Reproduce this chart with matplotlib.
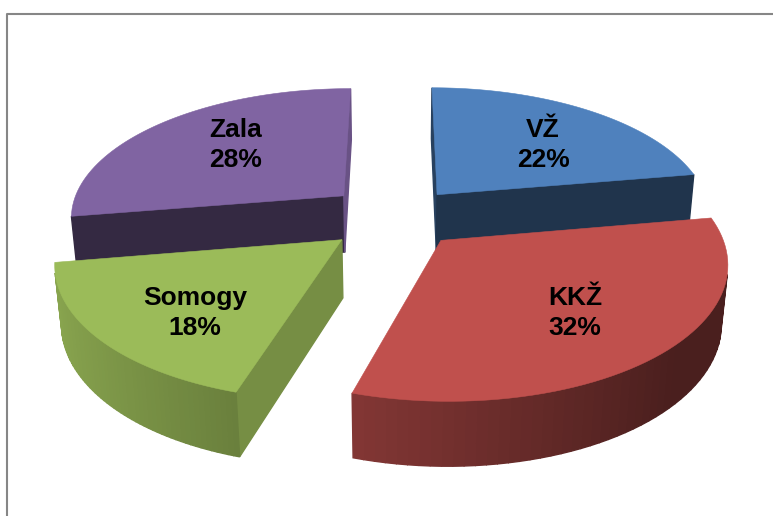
#3D exploded pie chart, drawn by hand because matplotlib has no perspective pie
import numpy as np
import matplotlib.pyplot as plt
from matplotlib.colors import to_rgb
from matplotlib.patches import Polygon

plt.rcParams['font.family'] = ['Liberation Sans', 'DejaVu Sans']

names = ['VŽ', 'KKŽ', 'Somogy', 'Zala']
values = [22.3, 32.4, 17.7, 27.6]
labels = ['22%', '32%', '18%', '28%']
colors = ['#4f81bd', '#c0504d', '#9bbb59', '#8064a2']
label_x = [543, 575, 195, 236]
label_y = [145, 313, 313, 145]
# how dark the two cut faces of each slice are
cut_shade = [(0.5, 0.4), (0.4, 0.6), (0.76, 0.4), (0.41, 0.82)]
explode = [0.232, 0.235, 0.26, 0.26]

height = 0.24
cx, cy = 397, 217
scale = 275.0
tilt = np.radians(28)
dist = 5.9


def project(x, y, z):
    depth = 1 + (y*np.cos(tilt) - z*np.sin(tilt))/dist
    up = y*np.sin(tilt) + z*np.cos(tilt)
    return cx + scale*x/depth, cy - scale*up/depth


def shade(color, f):
    return tuple(np.array(to_rgb(color))*f)


def rim_shade(th):
    return float(np.clip(0.67 - 0.29*(np.sin(th) + 0.25), 0.385, 0.9))


def face(ax, pts, color, z):
    # skip the faces that point away from the viewer
    xy = np.array(pts)
    area = 0.5*np.sum(xy[:, 0]*np.roll(xy[:, 1], -1) - np.roll(xy[:, 0], -1)*xy[:, 1])
    if area <= 0:
        return
    ax.add_patch(Polygon(xy, closed=True, fc=color, ec=color, lw=1.0, zorder=z))


fig = plt.figure(figsize=(7.73, 5.16), dpi=100)
ax = fig.add_axes([0, 0, 1, 1])
ax.set_xlim(0, 773)
ax.set_ylim(516, 0)
ax.axis('off')

# frame of the slide, only the top and left show
ax.plot([773, 6.5, 6.5], [13.5, 13.5, 516], color='#868686', lw=1.5, zorder=1)

fracs = np.array(values)/sum(values)
edges = np.concatenate([[0], np.cumsum(fracs)])*2*np.pi

# painted back to front
order = [3, 0, 2, 1]
for n, i in enumerate(order):
    a0, a1 = edges[i], edges[i+1]
    mid = (a0 + a1)/2
    ox, oy = explode[i]*np.sin(mid), explode[i]*np.cos(mid)
    th = np.linspace(a0, a1, 60)
    x = ox + np.sin(th)
    y = oy + np.cos(th)
    base = 10*(n + 1)

    top = [project(ox, oy, 0)] + [project(a, b, 0) for a, b in zip(x, y)]
    col = colors[i]

    # cut faces
    for k, (px, py) in enumerate([(x[0], y[0]), (x[-1], y[-1])]):
        quad = [project(ox, oy, 0), project(px, py, 0), project(px, py, -height), project(ox, oy, -height)]
        if k == 0:
            quad = quad[::-1]
        face(ax, quad, shade(col, cut_shade[i][k]), base)

    # outer rim
    for j in range(len(th) - 1):
        quad = [project(x[j], y[j], 0), project(x[j], y[j], -height),
                project(x[j+1], y[j+1], -height), project(x[j+1], y[j+1], 0)]
        face(ax, quad, shade(col, rim_shade((th[j] + th[j+1])/2)), base + 1)

    ax.add_patch(Polygon(top, closed=True, fc=col, ec=col, lw=0.4, zorder=base + 2))

for name, lab, lx, ly in zip(names, labels, label_x, label_y):
    ax.text(lx, ly, f'{name}\n{lab}', ha='center', va='center', fontsize=19,
            fontweight='bold', color='black', linespacing=1.3, zorder=100)

plt.savefig('out.png', dpi=100)
